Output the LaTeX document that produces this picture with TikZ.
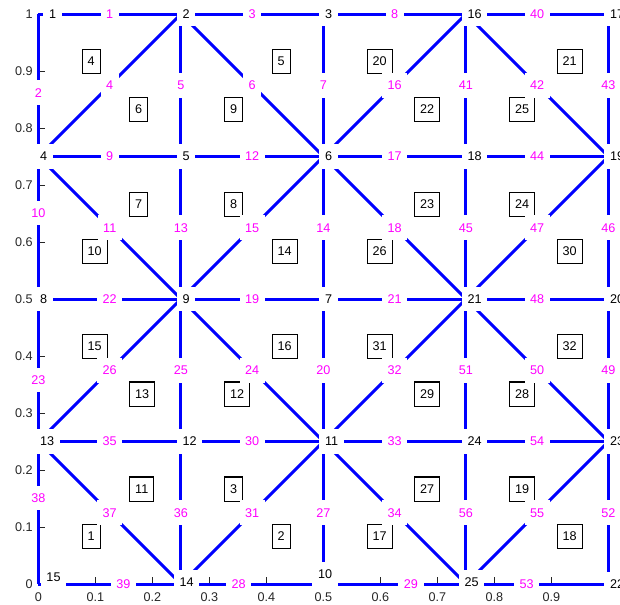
\documentclass[tikz,border=0pt]{standalone}
\usepackage{fontspec}
\setmainfont{Liberation Sans}
\usetikzlibrary{calc}
\definecolor{meshblue}{RGB}{0,0,255}
\definecolor{meshmagenta}{RGB}{255,0,255}
\definecolor{axisgray}{RGB}{38,38,38}
\newcommand{\meshfont}{\fontsize{6.3}{7.5}\selectfont}

\begin{document}
\begin{tikzpicture}[x=10cm,y=10cm,
  meshline/.style={meshblue,line width=1.5pt},
  lbl/.style={fill=white,inner xsep=2.8pt,inner ysep=0pt,minimum height=12.4pt,font=\meshfont},
  nodelbl/.style={lbl,text=black,anchor=west,xshift=-2.2pt},
  edgelbl/.style={lbl,text=meshmagenta},
  elembox/.style={lbl,draw=black,line width=0.5pt,anchor=west,xshift=-2.2pt,minimum height=12pt},
  ticklbl/.style={text=axisgray,inner sep=0pt,font=\meshfont}]
  \useasboundingbox (-0.0675,-0.0368) rectangle (1.0202,1.0246);

  % Axis ticks
  \foreach \t/\s in {0/0,0.1/0.1,0.2/0.2,0.3/0.3,0.4/0.4,0.5/0.5,0.6/0.6,0.7/0.7,0.8/0.8,0.9/0.9,1/1} {
    \draw[axisgray,line width=0.5pt] (0,\t) -- (0.012,\t);
    \node[ticklbl,anchor=east] at (-0.0095,\t) {\s};
  }
  \foreach \t/\s in {0/0,0.1/0.1,0.2/0.2,0.3/0.3,0.4/0.4,0.5/0.5,0.6/0.6,0.7/0.7,0.8/0.8,0.9/0.9} {
    \draw[axisgray,line width=0.5pt] (\t,0) -- (\t,0.012);
    \node[ticklbl] at (\t,-0.0228) {\s};
  }

  % Mesh points
  \coordinate (n1) at (0,1);
  \coordinate (n2) at (0.25,1);
  \coordinate (n3) at (0.5,1);
  \coordinate (n16) at (0.75,1);
  \coordinate (n17) at (1,1);
  \coordinate (n4) at (0,0.75);
  \coordinate (n5) at (0.25,0.75);
  \coordinate (n6) at (0.5,0.75);
  \coordinate (n18) at (0.75,0.75);
  \coordinate (n19) at (1,0.75);
  \coordinate (n8) at (0,0.5);
  \coordinate (n9) at (0.25,0.5);
  \coordinate (n7) at (0.5,0.5);
  \coordinate (n21) at (0.75,0.5);
  \coordinate (n20) at (1,0.5);
  \coordinate (n13) at (0,0.25);
  \coordinate (n12) at (0.25,0.25);
  \coordinate (n11) at (0.5,0.25);
  \coordinate (n24) at (0.75,0.25);
  \coordinate (n23) at (1,0.25);
  \coordinate (n15) at (0,0);
  \coordinate (n14) at (0.25,0);
  \coordinate (n10) at (0.5,0);
  \coordinate (n25) at (0.75,0);
  \coordinate (n22) at (1,0);

  % Element numbers (at the centroids)
  \node[elembox] (e4) at (barycentric cs:n1=1,n2=1,n4=1) {4};
  \node[elembox] (e6) at (barycentric cs:n2=1,n4=1,n5=1) {6};
  \node[elembox] (e5) at (barycentric cs:n2=1,n3=1,n6=1) {5};
  \node[elembox] (e9) at (barycentric cs:n2=1,n5=1,n6=1) {9};
  \node[elembox] (e20) at (barycentric cs:n3=1,n16=1,n6=1) {20};
  \node[elembox] (e22) at (barycentric cs:n6=1,n16=1,n18=1) {22};
  \node[elembox] (e21) at (barycentric cs:n16=1,n17=1,n19=1) {21};
  \node[elembox] (e25) at (barycentric cs:n16=1,n18=1,n19=1) {25};
  \node[elembox] (e7) at (barycentric cs:n4=1,n5=1,n9=1) {7};
  \node[elembox] (e10) at (barycentric cs:n4=1,n8=1,n9=1) {10};
  \node[elembox] (e8) at (barycentric cs:n5=1,n6=1,n9=1) {8};
  \node[elembox] (e14) at (barycentric cs:n9=1,n7=1,n6=1) {14};
  \node[elembox] (e23) at (barycentric cs:n6=1,n18=1,n21=1) {23};
  \node[elembox] (e26) at (barycentric cs:n6=1,n7=1,n21=1) {26};
  \node[elembox] (e24) at (barycentric cs:n18=1,n19=1,n21=1) {24};
  \node[elembox] (e30) at (barycentric cs:n21=1,n20=1,n19=1) {30};
  \node[elembox] (e15) at (barycentric cs:n8=1,n9=1,n13=1) {15};
  \node[elembox] (e13) at (barycentric cs:n13=1,n12=1,n9=1) {13};
  \node[elembox] (e16) at (barycentric cs:n9=1,n7=1,n11=1) {16};
  \node[elembox] (e12) at (barycentric cs:n9=1,n12=1,n11=1) {12};
  \node[elembox] (e31) at (barycentric cs:n7=1,n21=1,n11=1) {31};
  \node[elembox] (e29) at (barycentric cs:n11=1,n24=1,n21=1) {29};
  \node[elembox] (e32) at (barycentric cs:n21=1,n20=1,n23=1) {32};
  \node[elembox] (e28) at (barycentric cs:n21=1,n24=1,n23=1) {28};
  \node[elembox] (e11) at (barycentric cs:n13=1,n12=1,n14=1) {11};
  \node[elembox] (e1) at (barycentric cs:n13=1,n15=1,n14=1) {1};
  \node[elembox] (e3) at (barycentric cs:n12=1,n11=1,n14=1) {3};
  \node[elembox] (e2) at (barycentric cs:n14=1,n10=1,n11=1) {2};
  \node[elembox] (e27) at (barycentric cs:n11=1,n24=1,n25=1) {27};
  \node[elembox] (e17) at (barycentric cs:n11=1,n10=1,n25=1) {17};
  \node[elembox] (e19) at (barycentric cs:n24=1,n23=1,n25=1) {19};
  \node[elembox] (e18) at (barycentric cs:n25=1,n22=1,n23=1) {18};

  % Horizontal edges
  \draw[meshline] (n1) -- node[edgelbl] (d1) {1} (n2);
  \draw[meshline] (n2) -- node[edgelbl] (d3) {3} (n3);
  \draw[meshline] (n3) -- node[edgelbl] (d8) {8} (n16);
  \draw[meshline] (n16) -- node[edgelbl] (d40) {40} (n17);
  \draw[meshline] (n4) -- node[edgelbl] (d9) {9} (n5);
  \draw[meshline] (n5) -- node[edgelbl] (d12) {12} (n6);
  \draw[meshline] (n6) -- node[edgelbl] (d17) {17} (n18);
  \draw[meshline] (n18) -- node[edgelbl] (d44) {44} (n19);
  \draw[meshline] (n8) -- node[edgelbl] (d22) {22} (n9);
  \draw[meshline] (n9) -- node[edgelbl] (d19) {19} (n7);
  \draw[meshline] (n7) -- node[edgelbl] (d21) {21} (n21);
  \draw[meshline] (n21) -- node[edgelbl] (d48) {48} (n20);
  \draw[meshline] (n13) -- node[edgelbl] (d35) {35} (n12);
  \draw[meshline] (n12) -- node[edgelbl] (d30) {30} (n11);
  \draw[meshline] (n11) -- node[edgelbl] (d33) {33} (n24);
  \draw[meshline] (n24) -- node[edgelbl] (d54) {54} (n23);
  \draw[meshline] (n15) -- node[edgelbl,pos=0.596] (d39) {39} (n14);
  \draw[meshline] (n14) -- node[edgelbl,pos=0.404] (d28) {28} (n10);
  \draw[meshline] (n10) -- node[edgelbl,pos=0.614] (d29) {29} (n25);
  \draw[meshline] (n25) -- node[edgelbl,pos=0.425] (d53) {53} (n22);

  % Vertical edges
  \draw[meshline] (n1) -- node[edgelbl,pos=0.553] (d2) {2} (n4);
  \draw[meshline] (n4) -- node[edgelbl,pos=0.396] (d10) {10} (n8);
  \draw[meshline] (n8) -- node[edgelbl,pos=0.568] (d23) {23} (n13);
  \draw[meshline] (n13) -- node[edgelbl,pos=0.396] (d38) {38} (n15);
  \draw[meshline] (n2) -- node[edgelbl] (d5) {5} (n5);
  \draw[meshline] (n5) -- node[edgelbl] (d13) {13} (n9);
  \draw[meshline] (n9) -- node[edgelbl] (d25) {25} (n12);
  \draw[meshline] (n12) -- node[edgelbl] (d36) {36} (n14);
  \draw[meshline] (n3) -- node[edgelbl] (d7) {7} (n6);
  \draw[meshline] (n6) -- node[edgelbl] (d14) {14} (n7);
  \draw[meshline] (n7) -- node[edgelbl] (d20) {20} (n11);
  \draw[meshline] (n11) -- node[edgelbl] (d27) {27} (n10);
  \draw[meshline] (n16) -- node[edgelbl] (d41) {41} (n18);
  \draw[meshline] (n18) -- node[edgelbl] (d45) {45} (n21);
  \draw[meshline] (n21) -- node[edgelbl] (d51) {51} (n24);
  \draw[meshline] (n24) -- node[edgelbl] (d56) {56} (n25);
  \draw[meshline] (n17) -- node[edgelbl] (d43) {43} (n19);
  \draw[meshline] (n19) -- node[edgelbl] (d46) {46} (n20);
  \draw[meshline] (n20) -- node[edgelbl] (d49) {49} (n23);
  \draw[meshline] (n23) -- node[edgelbl] (d52) {52} (n22);

  % Diagonal edges
  \draw[meshline] (n4) -- node[edgelbl] (d4) {4} (n2);
  \draw[meshline] (n2) -- node[edgelbl] (d6) {6} (n6);
  \draw[meshline] (n6) -- node[edgelbl] (d16) {16} (n16);
  \draw[meshline] (n16) -- node[edgelbl] (d42) {42} (n19);
  \draw[meshline] (n4) -- node[edgelbl] (d11) {11} (n9);
  \draw[meshline] (n9) -- node[edgelbl] (d15) {15} (n6);
  \draw[meshline] (n6) -- node[edgelbl] (d18) {18} (n21);
  \draw[meshline] (n21) -- node[edgelbl] (d47) {47} (n19);
  \draw[meshline] (n13) -- node[edgelbl] (d26) {26} (n9);
  \draw[meshline] (n9) -- node[edgelbl] (d24) {24} (n11);
  \draw[meshline] (n11) -- node[edgelbl] (d32) {32} (n21);
  \draw[meshline] (n21) -- node[edgelbl] (d50) {50} (n23);
  \draw[meshline] (n13) -- node[edgelbl] (d37) {37} (n14);
  \draw[meshline] (n14) -- node[edgelbl] (d31) {31} (n11);
  \draw[meshline] (n11) -- node[edgelbl] (d34) {34} (n25);
  \draw[meshline] (n25) -- node[edgelbl] (d55) {55} (n23);

  % Node numbers
  \node[nodelbl,xshift=4.5pt] (l1) at (n1) {1};
  \node[nodelbl] (l2) at (n2) {2};
  \node[nodelbl] (l3) at (n3) {3};
  \node[nodelbl] (l16) at (n16) {16};
  \node[nodelbl] (l17) at (n17) {17};
  \node[nodelbl] (l4) at (n4) {4};
  \node[nodelbl] (l5) at (n5) {5};
  \node[nodelbl] (l6) at (n6) {6};
  \node[nodelbl] (l18) at (n18) {18};
  \node[nodelbl] (l19) at (n19) {19};
  \node[nodelbl] (l8) at (n8) {8};
  \node[nodelbl] (l9) at (n9) {9};
  \node[nodelbl] (l7) at (n7) {7};
  \node[nodelbl] (l21) at (n21) {21};
  \node[nodelbl] (l20) at (n20) {20};
  \node[nodelbl] (l13) at (n13) {13};
  \node[nodelbl] (l12) at (n12) {12};
  \node[nodelbl] (l11) at (n11) {11};
  \node[nodelbl] (l24) at (n24) {24};
  \node[nodelbl] (l23) at (n23) {23};
  \node[nodelbl,xshift=3.2pt,yshift=3.5pt] (l15) at (n15) {15};
  \node[nodelbl,xshift=-1.5pt,yshift=1pt] (l14) at (n14) {14};
  \node[nodelbl,xshift=-3.5pt,yshift=5pt] (l10) at (n10) {10};
  \node[nodelbl,xshift=-1.5pt,yshift=1pt] (l25) at (n25) {25};
  \node[nodelbl] (l22) at (n22) {22};
\end{tikzpicture}
\end{document}
